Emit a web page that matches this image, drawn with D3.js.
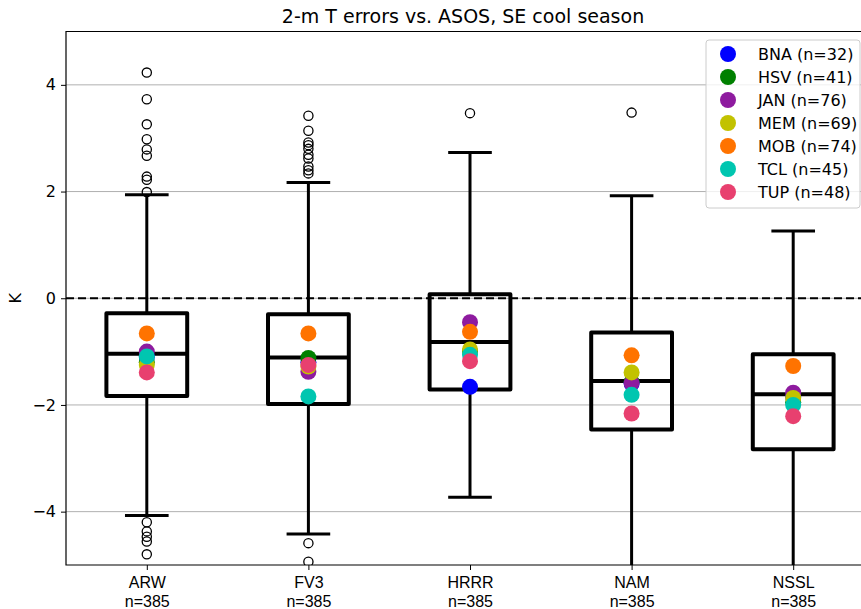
<!DOCTYPE html>
<html>
<head>
<meta charset="utf-8">
<script src="https://cdn.jsdelivr.net/npm/d3@7"></script>
<style>
  body { margin: 0; background: #fff; }
  svg { display: block; font-family: "DejaVu Sans", sans-serif; }
</style>
</head>
<body>
<script>
// Box statistics (K)
const models = ["ARW", "FV3", "HRRR", "NAM", "NSSL"];
const modelN = [385, 385, 385, 385, 385];
const q1 = [-1.83, -1.98, -1.71, -2.46, -2.83];
const med = [-1.04, -1.11, -0.82, -1.55, -1.80];
const q3 = [-0.28, -0.30, 0.075, -0.64, -1.05];
const whiskLo = [-4.07, -4.42, -3.73, -5.6, -5.8];
const whiskHi = [1.94, 2.17, 2.73, 1.92, 1.26];
const outliers = [
    [4.23, 3.73, 3.26, 2.98, 2.79, 2.67, 2.28, 2.22, 1.99, -4.20, -4.37, -4.47, -4.56, -4.80],
    [3.42, 3.14, 2.92, 2.87, 2.80, 2.69, 2.62, 2.47, 2.40, 2.34, -4.59, -4.94],
    [3.47],
    [3.48],
    []
];

// Station mean errors, one value per model
const stations = ["BNA", "HSV", "JAN", "MEM", "MOB", "TCL", "TUP"];
const stationN = [32, 41, 76, 69, 74, 45, 48];
const stationColors = ["#0000ff", "#008000", "#8e1b9f", "#c2c200", "#ff7300", "#00c6b0", "#e8406f"];
const stationMeans = [
    [-1.10, -1.20, -1.66, -1.60, -1.85],
    [-1.20, -1.12, -1.00, -1.57, -1.95],
    [-1.00, -1.38, -0.45, -1.59, -1.77],
    [-1.25, -1.28, -0.96, -1.39, -1.87],
    [-0.66, -0.66, -0.63, -1.07, -1.27],
    [-1.09, -1.84, -1.06, -1.81, -2.00],
    [-1.39, -1.25, -1.18, -2.16, -2.21]
];
const yTicks = [-4, -2, 0, 2, 4];

const width = 861, height = 609;
const margin = { top: 31.5, left: 66, bottom: 565 };
const fs = 16;

const x = d3.scaleLinear().domain([0.5, 5.5]).range([margin.left, 874]);
const y = d3.scaleLinear().domain([-5, 5]).range([margin.bottom, margin.top]);

const svg = d3.select("body").append("svg")
    .attr("width", width)
    .attr("height", height);

svg.append("clipPath").attr("id", "plot")
    .append("rect")
    .attr("x", margin.left).attr("y", margin.top)
    .attr("width", 874 - margin.left).attr("height", margin.bottom - margin.top);

// grid
svg.append("g")
    .selectAll("line")
    .data(yTicks)
    .join("line")
    .attr("x1", margin.left).attr("x2", width)
    .attr("y1", d => y(d)).attr("y2", d => y(d))
    .attr("stroke", "#b0b0b0")
    .attr("stroke-width", 1);

// zero line
svg.append("line")
    .attr("x1", margin.left).attr("x2", width)
    .attr("y1", y(0)).attr("y2", y(0))
    .attr("stroke", "#000")
    .attr("stroke-width", 2)
    .attr("stroke-dasharray", "8,4");

const plot = svg.append("g").attr("clip-path", "url(#plot)");

const boxW = 0.5, capW = 0.27;
const boxes = plot.selectAll("g.box")
    .data(models.map((m, i) => i))
    .join("g")
    .attr("class", "box");

// whiskers
boxes.append("line")
    .attr("x1", i => x(i + 1)).attr("x2", i => x(i + 1))
    .attr("y1", i => y(q3[i])).attr("y2", i => y(whiskHi[i]))
    .attr("stroke", "#000").attr("stroke-width", 3);
boxes.append("line")
    .attr("x1", i => x(i + 1)).attr("x2", i => x(i + 1))
    .attr("y1", i => y(q1[i])).attr("y2", i => y(whiskLo[i]))
    .attr("stroke", "#000").attr("stroke-width", 3);
// caps
[whiskHi, whiskLo].forEach(w => {
    boxes.append("line")
        .attr("x1", i => x(i + 1 - capW / 2)).attr("x2", i => x(i + 1 + capW / 2))
        .attr("y1", i => y(w[i])).attr("y2", i => y(w[i]))
        .attr("stroke", "#000").attr("stroke-width", 3);
});
// box
boxes.append("rect")
    .attr("x", i => x(i + 1 - boxW / 2))
    .attr("width", x(1 + boxW) - x(1))
    .attr("y", i => y(q3[i]))
    .attr("height", i => y(q1[i]) - y(q3[i]))
    .attr("fill", "none")
    .attr("stroke", "#000").attr("stroke-width", 4)
    .attr("stroke-linejoin", "round");
// median
boxes.append("line")
    .attr("x1", i => x(i + 1 - boxW / 2)).attr("x2", i => x(i + 1 + boxW / 2))
    .attr("y1", i => y(med[i])).attr("y2", i => y(med[i]))
    .attr("stroke", "#000").attr("stroke-width", 4);
// fliers
boxes.selectAll("circle.flier")
    .data(i => outliers[i].map(v => [i, v]))
    .join("circle")
    .attr("class", "flier")
    .attr("cx", d => x(d[0] + 1))
    .attr("cy", d => y(d[1]))
    .attr("r", 4.6)
    .attr("fill", "none")
    .attr("stroke", "#000")
    .attr("stroke-width", 1.3);

// station means
stations.forEach((s, si) => {
    plot.append("g")
        .selectAll("circle")
        .data(stationMeans[si])
        .join("circle")
        .attr("cx", (d, i) => x(i + 1))
        .attr("cy", d => y(d))
        .attr("r", 8)
        .attr("fill", stationColors[si]);
});

// axes
const yAxis = svg.append("g")
    .attr("transform", `translate(${margin.left},0)`)
    .call(d3.axisLeft(y).tickValues(yTicks).tickSize(5).tickPadding(5)
        .tickFormat(d => d < 0 ? "\u2212" + Math.abs(d) : d));
yAxis.select(".domain").remove();
yAxis.selectAll("text").attr("font-size", fs).attr("font-family", "DejaVu Sans").attr("fill", "#000");
yAxis.selectAll("line").attr("stroke", "#000");

const xAxis = svg.append("g")
    .attr("transform", `translate(0,${margin.bottom})`)
    .call(d3.axisBottom(x).tickValues(models.map((m, i) => i + 1)).tickSize(5).tickFormat(""));
xAxis.select(".domain").remove();
xAxis.selectAll("line").attr("stroke", "#000");
xAxis.selectAll(".tick").append("text")
    .attr("fill", "#000")
    .attr("font-size", fs)
    .attr("text-anchor", "middle")
    .selectAll("tspan")
    .data((d, i) => [models[d - 1], "n=" + modelN[d - 1]])
    .join("tspan")
    .attr("x", 0)
    .attr("y", (d, j) => 23 + j * 19)
    .text(d => d);

// spines
svg.append("path")
    .attr("d", `M${width},${margin.top}H${margin.left}V${margin.bottom}H${width}`)
    .attr("fill", "none")
    .attr("stroke", "#000")
    .attr("stroke-width", 1.2);

// labels
svg.append("text")
    .attr("x", 463).attr("y", 23)
    .attr("text-anchor", "middle")
    .attr("font-size", 19)
    .text("2-m T errors vs. ASOS, SE cool season");

svg.append("text")
    .attr("transform", `translate(21,${y(0)}) rotate(-90)`)
    .attr("text-anchor", "middle")
    .attr("font-size", fs)
    .text("K");

// legend
const legend = svg.append("g");
legend.append("rect")
    .attr("x", 706).attr("y", 40)
    .attr("width", 154).attr("height", 168)
    .attr("rx", 3)
    .attr("fill", "#fff").attr("fill-opacity", 0.8)
    .attr("stroke", "#cccccc");
const rows = legend.selectAll("g.row")
    .data(stations)
    .join("g")
    .attr("transform", (d, i) => `translate(728,${54 + i * 23})`);
rows.append("circle")
    .attr("r", 8)
    .attr("fill", (d, i) => stationColors[i]);
rows.append("text")
    .attr("x", 30).attr("y", 6)
    .attr("font-size", fs)
    .text((d, i) => `${d} (n=${stationN[i]})`);
</script>
</body>
</html>
